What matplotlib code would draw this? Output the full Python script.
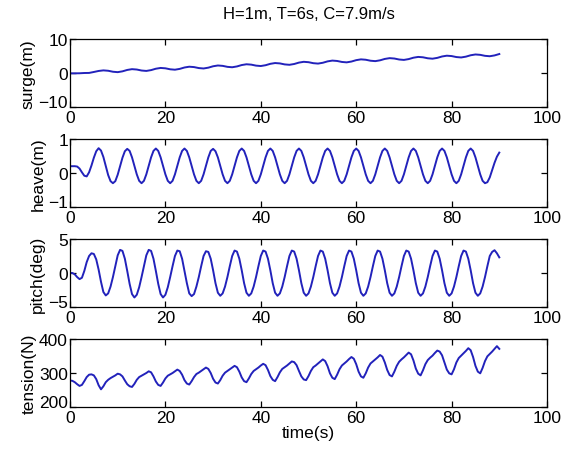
import matplotlib
matplotlib.use('Agg')
import matplotlib.pyplot as plt
import matplotlib.transforms as mtransforms
import numpy as np

plt.rcParams['font.family'] = ['Liberation Sans', 'DejaVu Sans']

# ---------------- data ----------------
title = "H=1m, T=6s, C=7.9m/s"
xlabel = "time(s)"
ylabels = ["surge(m)", "heave(m)", "pitch(deg)", "tension(N)"]
x_ticks = [0, 20, 40, 60, 80, 100]
y_ticks = [[-10, 0, 10], [-1, 0, 1], [-5, 0, 5], [200, 300, 400]]

# surge, sampled every 1 s from 0 to 90 s
surge_step = 1.0
surge = [
    -0.10, -0.10, -0.08, 0.00, 0.02, 0.30, 0.60, 0.77, 0.66, 0.37,
    0.25, 0.49, 0.90, 1.13, 1.02, 0.73, 0.61, 0.85, 1.26, 1.49,
    1.38, 1.09, 0.97, 1.21, 1.62, 1.85, 1.74, 1.45, 1.33, 1.57,
    1.98, 2.21, 2.10, 1.81, 1.69, 1.93, 2.34, 2.57, 2.46, 2.17,
    2.05, 2.29, 2.70, 2.93, 2.82, 2.53, 2.41, 2.65, 3.06, 3.29,
    3.18, 2.89, 2.77, 3.01, 3.42, 3.65, 3.54, 3.25, 3.13, 3.37,
    3.78, 4.01, 3.90, 3.61, 3.49, 3.73, 4.14, 4.37, 4.26, 3.97,
    3.85, 4.09, 4.50, 4.73, 4.62, 4.33, 4.21, 4.45, 4.86, 5.09,
    4.98, 4.69, 4.57, 4.81, 5.22, 5.45, 5.34, 5.05, 4.93, 5.17,
    5.58,
]

# heave, pitch, tension sampled every 0.5 s from 0 to 90 s
step = 0.5
heave = [
    0.20, 0.20, 0.20, 0.19, 0.13, 0.02, -0.08, -0.10, 0.02, 0.22, 0.45, 0.64, 0.73,
    0.66, 0.47, 0.20, -0.06, -0.24, -0.30, -0.24, -0.05, 0.20, 0.45, 0.64, 0.71,
    0.65, 0.46, 0.21, -0.04, -0.23, -0.30, -0.23, -0.04, 0.21, 0.46, 0.65, 0.72,
    0.65, 0.46, 0.21, -0.04, -0.23, -0.30, -0.23, -0.04, 0.21, 0.46, 0.65, 0.72,
    0.65, 0.46, 0.21, -0.04, -0.23, -0.30, -0.23, -0.04, 0.21, 0.46, 0.65, 0.71,
    0.64, 0.46, 0.21, -0.04, -0.23, -0.30, -0.23, -0.04, 0.21, 0.46, 0.65, 0.72,
    0.65, 0.46, 0.21, -0.04, -0.23, -0.30, -0.23, -0.04, 0.21, 0.46, 0.65, 0.72,
    0.65, 0.46, 0.21, -0.04, -0.23, -0.30, -0.23, -0.04, 0.21, 0.46, 0.65, 0.72,
    0.65, 0.46, 0.21, -0.04, -0.23, -0.30, -0.23, -0.04, 0.21, 0.46, 0.65, 0.72,
    0.65, 0.46, 0.21, -0.04, -0.23, -0.30, -0.23, -0.04, 0.21, 0.46, 0.65, 0.72,
    0.65, 0.46, 0.21, -0.04, -0.23, -0.30, -0.23, -0.04, 0.21, 0.46, 0.65, 0.72,
    0.65, 0.46, 0.21, -0.04, -0.23, -0.30, -0.23, -0.04, 0.21, 0.46, 0.65, 0.72,
    0.65, 0.46, 0.21, -0.04, -0.23, -0.30, -0.23, -0.04, 0.21, 0.46, 0.65, 0.72,
    0.65, 0.46, 0.21, -0.04, -0.23, -0.30, -0.23, -0.04, 0.21, 0.46, 0.65, 0.72,
    0.65, 0.46, 0.21, -0.04, -0.23, -0.30, -0.27, -0.13, 0.08, 0.30, 0.48, 0.60,
]

pitch = [
    0.0, 0.0, -0.2, -0.6, -0.9, -0.7, 0.3, 1.6, 2.5,
    2.9, 2.8, 2.0, 0.5, -1.3, -2.8, -3.3, -3.0, -2.0, -0.6, 1.0, 2.6,
    3.4, 3.25, 2.1, 0.3, -1.6, -3.1, -3.6, -3.2, -2.1, -0.6, 1.0, 2.6,
    3.4, 3.25, 2.1, 0.3, -1.6, -3.1, -3.6, -3.2, -2.1, -0.6, 1.0, 2.5,
    3.3, 3.2, 2.1, 0.3, -1.5, -3.0, -3.4, -3.1, -2.0, -0.6, 1.0, 2.5,
    3.2, 3.1, 2.1, 0.4, -1.5, -2.9, -3.35, -3.0, -2.0, -0.6, 1.0, 2.5,
    3.3, 3.15, 2.1, 0.4, -1.5, -2.9, -3.35, -3.0, -2.0, -0.6, 1.0, 2.5,
    3.3, 3.15, 2.1, 0.4, -1.5, -2.9, -3.35, -3.0, -2.0, -0.6, 1.0, 2.5,
    3.3, 3.15, 2.1, 0.4, -1.5, -2.9, -3.35, -3.0, -2.0, -0.6, 1.0, 2.5,
    3.3, 3.15, 2.1, 0.4, -1.5, -2.9, -3.35, -3.0, -2.0, -0.6, 1.0, 2.5,
    3.3, 3.15, 2.1, 0.4, -1.5, -2.9, -3.35, -3.0, -2.0, -0.6, 1.0, 2.5,
    3.3, 3.15, 2.1, 0.4, -1.5, -2.9, -3.35, -3.0, -2.0, -0.6, 1.0, 2.5,
    3.3, 3.15, 2.1, 0.4, -1.5, -2.9, -3.35, -3.0, -2.0, -0.6, 1.0, 2.5,
    3.3, 3.15, 2.1, 0.4, -1.5, -2.9, -3.35, -3.0, -2.0, -0.6, 1.0, 2.5,
    3.3, 3.15, 2.1, 0.4, -1.5, -2.9, -3.35, -3.0, -2.0, -0.6, 1.0, 2.5,
    3.1, 3.35, 2.9, 2.3,
]

tension = [
    278, 277, 273, 267, 262, 265, 276, 288, 295, 296, 293, 282, 264,
    252, 261, 273, 280, 285, 289, 293, 298, 296, 290, 278, 267, 261,
    259, 268, 280, 288, 292, 296, 300, 305, 302, 290, 275, 265,
    262, 272, 284, 292, 296, 300, 305, 310, 306, 295, 279, 269,
    266, 276, 288, 297, 301, 306, 311, 316, 312, 300, 283, 272,
    269, 279, 292, 301, 306, 311, 316, 321, 317, 304, 287, 276,
    273, 284, 297, 306, 311, 316, 322, 327, 323, 309, 291, 280,
    276, 288, 302, 312, 317, 322, 328, 334, 332, 323, 306, 290, 281,
    279, 291, 306, 317, 322, 328, 334, 340, 335, 320, 299, 286,
    282, 295, 311, 322, 328, 334, 341, 347, 342, 326, 304, 290,
    286, 299, 316, 328, 334, 340, 346, 353, 348, 331, 309, 294,
    290, 304, 321, 333, 340, 346, 353, 360, 355, 337, 313, 298,
    293, 308, 326, 338, 345, 351, 359, 366, 363, 352, 331, 310, 299,
    296, 311, 331, 344, 351, 358, 365, 373, 367, 347, 321, 304,
    299, 315, 335, 349, 356, 363, 371, 379, 371,
]

# ---------------- figure ----------------
W, H = 568, 456
fig = plt.figure(figsize=(W / 100, H / 100), dpi=100)
line_color = '#2222bb'

series = [
    (np.arange(len(surge)) * surge_step, surge),
    (np.arange(len(heave)) * step, heave),
    (np.arange(len(pitch)) * step, pitch),
    (np.arange(len(tension)) * step, tension),
]

left_px, right_px = 70, 547
tops_px = [40, 140, 240, 340]
h_px = 68

axes = []
for i, ((tt, yy), yl, yt) in enumerate(zip(series, ylabels, y_ticks)):
    top = tops_px[i]
    ax = fig.add_axes([left_px / W, 1 - (top + h_px) / H,
                       (right_px - left_px) / W, h_px / H])
    ax.plot(tt, yy, color=line_color, lw=1.4)
    ax.set_xlim(x_ticks[0], x_ticks[-1])
    ax.set_ylim(yt[0], yt[-1])
    ax.set_xticks(x_ticks)
    ax.set_yticks(yt)
    ax.tick_params(direction='in', top=True, right=True, length=4,
                   width=0.9, labelsize=12.5, pad=1.5)
    ax.tick_params(axis='x', pad=2.5)
    for sp in ax.spines.values():
        sp.set_linewidth(0.9)
        sp.set_color('black')
    ax.set_ylabel(yl, fontsize=12.5, labelpad=2)
    # bottom y tick label sits just above the lower axis edge
    fig.canvas.draw()
    lbl = ax.get_yticklabels()[0]
    lbl.set_transform(lbl.get_transform() +
                      mtransforms.ScaledTranslation(0, 4 / 72, fig.dpi_scale_trans))
    axes.append(ax)

axes[0].set_title(title, fontsize=12, pad=15)
axes[-1].set_xlabel(xlabel, fontsize=12.5, labelpad=0)

fig.savefig('out.png', dpi=100)
